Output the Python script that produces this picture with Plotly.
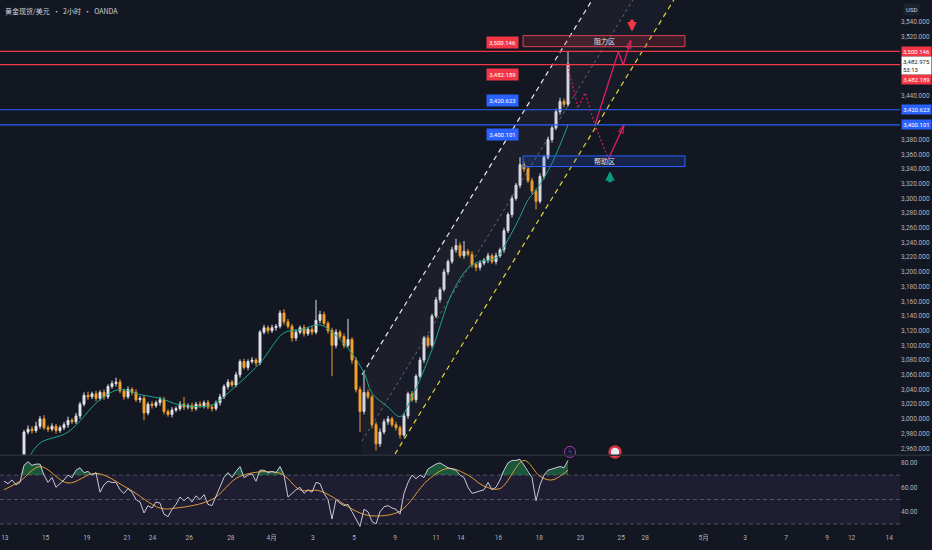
import plotly.graph_objects as go

# ---- data (one candle = ~2 original 2h bars) ----
first_open = 2936
closes = [
    2934, 2930, 2936, 2933, 2938, 2982, 2986, 2984, 2990, 3000,
    2988, 2986, 2990, 2984, 2988, 2992, 2998, 2996, 3004, 3020,
    3032, 3030, 3034, 3028, 3036, 3030, 3044, 3048, 3050, 3038,
    3030, 3040, 3036, 3026, 3028, 3008, 3020, 3018, 3022, 3026,
    3010, 3006, 3012, 3014, 3020, 3016, 3018, 3014, 3020, 3018,
    3022, 3016, 3014, 3022, 3030, 3044, 3050, 3046, 3060, 3078,
    3070, 3078, 3080, 3076, 3118, 3124, 3120, 3124, 3126, 3144,
    3132, 3126, 3110, 3118, 3124, 3116, 3122, 3118, 3134, 3142,
    3130, 3120, 3100, 3118, 3112, 3100, 3108, 3080, 3040, 3010,
    3036, 3030, 2992, 2966, 2982, 2996, 3000, 2992, 2988, 2978,
    3004, 3034, 3026, 3058, 3080, 3110, 3100, 3140, 3162, 3176,
    3200, 3214, 3230, 3236, 3222, 3228, 3224, 3210, 3206, 3212,
    3216, 3222, 3214, 3222, 3230, 3256, 3278, 3300, 3318, 3346,
    3340, 3324, 3310, 3296, 3330, 3356, 3380, 3396, 3418, 3432,
    3428, 3482.975,
]
up_wicks = [
    4, 3, 5, 3, 4, 3, 5, 4, 6, 4,
    5, 3, 4, 3, 3, 4, 5, 3, 4, 3,
    4, 5, 3, 4, 3, 4, 3, 4, 6, 4,
    3, 4, 3, 4, 3, 4, 3, 4, 3, 4,
    4, 3, 4, 3, 4, 10, 3, 4, 3, 4,
    3, 4, 3, 3, 4, 3, 4, 3, 4, 3,
    4, 3, 4, 3, 3, 4, 3, 4, 3, 4,
    5, 4, 3, 4, 3, 4, 3, 4, 28, 5,
    4, 3, 4, 4, 3, 4, 28, 3, 4, 4,
    26, 4, 3, 4, 5, 4, 4, 3, 4, 3,
    4, 3, 4, 3, 4, 3, 4, 3, 4, 3,
    4, 3, 4, 9, 4, 14, 3, 4, 3, 4,
    3, 4, 3, 4, 3, 4, 3, 4, 3, 10,
    4, 3, 4, 3, 4, 3, 4, 3, 4, 5,
    4, 17,
]
down_wicks = [
    4, 3, 4, 3, 4, 3, 3, 4, 3, 4,
    3, 4, 3, 4, 3, 3, 4, 3, 3, 4,
    3, 4, 3, 4, 3, 4, 3, 3, 4, 3,
    4, 3, 4, 3, 4, 10, 3, 4, 3, 4,
    4, 3, 4, 3, 3, 4, 3, 4, 3, 3,
    4, 3, 4, 3, 4, 3, 4, 3, 3, 4,
    3, 4, 3, 4, 3, 3, 4, 3, 4, 3,
    4, 3, 5, 4, 3, 4, 3, 4, 3, 4,
    3, 4, 42, 4, 3, 4, 3, 5, 4, 28,
    4, 3, 5, 9, 4, 3, 4, 3, 4, 5,
    3, 4, 3, 4, 3, 4, 3, 4, 3, 4,
    3, 4, 3, 4, 3, 4, 3, 4, 5, 4,
    3, 4, 3, 4, 3, 4, 3, 4, 3, 4,
    4, 3, 4, 11, 3, 4, 3, 4, 3, 4,
    4, 3,
]

# teal moving average on price (read at selected bars)
ma_bars = [6, 9, 16, 24, 29, 34, 39, 44, 52, 57, 64, 70, 74, 79, 82, 86,
           90, 92, 96, 99, 102, 107, 112, 116, 119, 123, 126, 129, 131, 133, 137, 141]
ma_vals = [2945, 2967, 2982, 3026, 3040, 3033, 3028, 3019, 3019, 3040, 3076, 3117,
           3121, 3128, 3118, 3096, 3063, 3035, 3016, 3003, 3030, 3094, 3171, 3205,
           3214, 3219, 3244, 3275, 3298, 3311, 3348, 3400]

# RSI pane
rsi = [
    65, 63, 66, 62, 64, 78, 81, 78, 79, 79,
    70, 64, 68, 60, 63, 66, 70, 68, 74, 76,
    72, 73, 70, 72, 56, 62, 65, 64, 64, 58,
    55, 59, 56, 50, 48, 39, 45, 43, 48, 47,
    38, 36, 42, 46, 52, 49, 52, 48, 53, 50,
    54, 46, 45, 53, 60, 68, 72, 68, 73, 77,
    68, 70, 71, 65, 74, 74, 72, 73, 72, 77,
    70, 52, 55, 58, 60, 55, 58, 56, 64, 63,
    55, 50, 34, 50, 47, 45, 46, 40, 33, 28,
    42, 40, 32, 30, 40, 44, 45, 43, 42, 38,
    55, 64, 70, 67, 70, 68, 75, 77, 79, 80,
    78, 76, 75, 74, 70, 68, 60, 55, 56, 57,
    58, 64, 58, 60, 66, 74, 80, 82, 82, 83,
    78, 72, 68, 49, 62, 70, 74, 75, 76, 77,
    76, 82,
]
rsi_ma_bars = [0, 4, 9, 16, 23, 31, 39, 43, 52, 59, 69, 74, 79, 89, 93, 99,
               106, 111, 116, 120, 124, 130, 134, 137, 141]
rsi_ma = [58, 65, 77, 63.5, 71.5, 59, 43, 43, 50, 69, 71.5, 58, 57, 39, 36.5, 40.5,
          66, 75.5, 70, 61, 59, 82, 69, 66, 74]

# drawings
level_prices = [3500.146, 3482.189, 3420.623, 3400.101]
level_colors = ["#f23645", "#f23645", "#2962ff", "#2962ff"]
level_label_shift = [9, -10, 9.5, -10]
level_axis_shift = [0, -14.5, 0, 0]

channel_x = [89.5, 175]
channel_upper = [3060, 3818]
channel_lower = [2879, 3637]
channel_mid = [(u + l) / 2 for u, l in zip(channel_upper, channel_lower)]

zone_x = [129.75, 170.25]
resist_zone = [3506.5, 3521.5]
support_zone = [3343.3, 3357.8]

path_a_x = [147.75, 153.6, 154.8, 156.7]
path_a_y = [3400.1, 3499.7, 3481.6, 3514.7]
path_b_x = [151.1, 155.0]
path_b_y = [3353.7, 3399.6]
dotted_x = [141, 143.5, 145.25, 147.75, 151.1]
dotted_y = [3479, 3423, 3443.5, 3400.1, 3353.7]

tick_pos = [0.2, 10.4, 20.7, 30.8, 37.1, 46.3, 56.7, 66.9, 77.2, 87.5, 97.75, 108,
            114.2, 123.6, 133.8, 144.1, 154.3, 160.3, 174.9, 185.25, 195.5, 205.75,
            211.9, 221.3]
tick_text = ["13", "15", "19", "21", "24", "26", "28", "4月", "3", "5", "9", "11",
             "14", "16", "18", "23", "25", "28", "5月", "3", "7", "9", "12", "14"]

hidden_ticks = [3400, 3420, 3460, 3480, 3500]
price_ticks = [p for p in range(2960, 3560, 20) if p not in hidden_ticks]

BG = "#131722"
TXT = "#b2b5be"
PINK = "#e91e63"

opens = [first_open] + closes[:-1]
highs = [max(o, c) + w for o, c, w in zip(opens, closes, up_wicks)]
lows = [min(o, c) - w for o, c, w in zip(opens, closes, down_wicks)]
bars = list(range(len(closes)))

fig = go.Figure()

# channel fill + lines
fig.add_trace(go.Scatter(x=channel_x, y=channel_upper, mode="lines",
                         line=dict(color="rgba(255,255,255,0.9)", width=1.2, dash="5px,4px")))
fig.add_trace(go.Scatter(x=channel_x, y=channel_mid, mode="lines", fill="tonexty",
                         fillcolor="rgba(120,123,134,0.09)",
                         line=dict(color="rgba(200,200,200,0.55)", width=0.8, dash="3px,3px")))
fig.add_trace(go.Scatter(x=channel_x, y=channel_lower, mode="lines", fill="tonexty",
                         fillcolor="rgba(120,123,134,0.06)",
                         line=dict(color="#e6d23a", width=1.2, dash="5px,4px")))

fig.add_trace(go.Candlestick(
    x=bars, open=opens, high=highs, low=lows, close=closes,
    increasing=dict(line=dict(color="#dfe1e8", width=1), fillcolor="#dfe1e8"),
    decreasing=dict(line=dict(color="#f5a02a", width=1), fillcolor="#f5a02a"),
    whiskerwidth=0, hoverinfo="skip",
))

fig.add_trace(go.Scatter(x=ma_bars, y=ma_vals, mode="lines", line_shape="spline",
                         line=dict(color="#1fa38e", width=1)))

# projected paths
fig.add_trace(go.Scatter(x=dotted_x, y=dotted_y, mode="lines",
                         line=dict(color=PINK, width=1.1, dash="2px,2px")))
for px_, py_ in [(path_a_x, path_a_y), (path_b_x, path_b_y)]:
    sizes = [0] * (len(px_) - 1) + [8]
    fig.add_trace(go.Scatter(x=px_, y=py_, mode="lines+markers",
                             line=dict(color=PINK, width=1.3),
                             marker=dict(symbol="arrow-open", size=sizes, angleref="previous",
                                         line=dict(color=PINK, width=1.3), color=PINK)))

# event icons at bottom of price pane
fig.add_trace(go.Scatter(x=[141.5], y=[2955], mode="markers+text", text=["ϟ"],
                         textfont=dict(color="#b04fc8", size=8),
                         marker=dict(size=11, color=BG, line=dict(color="#9c3fb8", width=1)),
                         cliponaxis=False))
fig.add_trace(go.Scatter(x=[152.75], y=[2955], mode="markers",
                         marker=dict(size=11, color="#e8eaf2", line=dict(color="#d8323e", width=2.5)),
                         cliponaxis=False))

# RSI
fig.add_trace(go.Scatter(x=bars, y=[70] * len(bars), mode="lines", yaxis="y2",
                         line=dict(width=0, color="rgba(0,0,0,0)")))
fig.add_trace(go.Scatter(x=bars, y=[max(v, 70) for v in rsi], mode="lines", yaxis="y2",
                         fill="tonexty", fillcolor="rgba(38,166,91,0.45)",
                         line=dict(width=0, color="rgba(0,0,0,0)")))
fig.add_trace(go.Scatter(x=rsi_ma_bars, y=rsi_ma, mode="lines", yaxis="y2", line_shape="spline",
                         line=dict(color="#e39b35", width=1)))
fig.add_trace(go.Scatter(x=bars, y=rsi, mode="lines", yaxis="y2",
                         line=dict(color="#c9cbd6", width=1)))

shapes = []
for p, c in zip(level_prices, level_colors):
    shapes.append(dict(type="line", xref="paper", x0=0, x1=1, yref="y", y0=p, y1=p,
                       line=dict(color=c, width=1.2)))
shapes.append(dict(type="rect", xref="x", yref="y", x0=zone_x[0], x1=zone_x[1],
                   y0=resist_zone[0], y1=resist_zone[1],
                   fillcolor="rgba(242,54,69,0.18)", line=dict(color="#d8404f", width=1)))
shapes.append(dict(type="rect", xref="x", yref="y", x0=zone_x[0], x1=zone_x[1],
                   y0=support_zone[0], y1=support_zone[1],
                   fillcolor="rgba(41,98,255,0.18)", line=dict(color="#2962ff", width=1)))
# RSI band and guides
shapes.append(dict(type="rect", xref="paper", x0=0, x1=1, yref="y2", y0=30, y1=70,
                   fillcolor="rgba(126,87,194,0.10)", line=dict(width=0), layer="below"))
for lv in [70, 50, 30]:
    shapes.append(dict(type="line", xref="paper", x0=0, x1=1, yref="y2", y0=lv, y1=lv,
                       line=dict(color="rgba(120,123,134,0.55)", width=1, dash="4px,3px")))
shapes.append(dict(type="line", xref="paper", x0=0, x1=1.036, yref="paper", y0=0.1445, y1=0.1445,
                   line=dict(color="#2a2e39", width=1.5)))

ann = []
lab_font = dict(family="Roboto", size=6, color="white")
for p, c, s, a in zip(level_prices, level_colors, level_label_shift, level_axis_shift):
    ann.append(dict(x=124.5, y=p, xref="x", yref="y", yshift=s, text=f"{p:,.3f}",
                    showarrow=False, bgcolor=c, font=lab_font, borderpad=2, width=27))
    ann.append(dict(x=1, y=p, xref="paper", yref="y", xanchor="left", xshift=1, yshift=a,
                    text=f"{p:,.3f}", showarrow=False, bgcolor=c, font=lab_font,
                    borderpad=1, width=27))
ann.append(dict(x=1, y=closes[-1], xref="paper", yref="y", xanchor="left", xshift=1, yshift=-2,
                text=f"{closes[-1]:,.3f}<br>53:13", showarrow=False, bgcolor="#ffffff",
                font=dict(family="Roboto", size=6, color="#131722"), borderpad=1, width=27,
                align="left"))
ann.append(dict(x=1, y=1, xref="paper", yref="paper", xanchor="left", yanchor="top", xshift=3,
                yshift=-3, text="USD", showarrow=False, bgcolor="#1e222d",
                font=dict(family="Roboto", size=6, color="#d1d4dc"), borderpad=2))
ann.append(dict(x=0.003, y=1, xref="paper", yref="paper", xanchor="left", yanchor="top",
                yshift=-4, text="黄金现货/美元  •  2小时  •  OANDA", showarrow=False,
                font=dict(family="Noto Sans CJK SC", size=7, color="#d1d4dc")))
ann.append(dict(x=sum(zone_x) / 2, y=sum(resist_zone) / 2, xref="x", yref="y", text="阻力区",
                showarrow=False, font=dict(family="Noto Sans CJK SC", size=7, color="#e0e3eb")))
ann.append(dict(x=sum(zone_x) / 2, y=sum(support_zone) / 2, xref="x", yref="y", text="帮助区",
                showarrow=False, font=dict(family="Noto Sans CJK SC", size=7, color="#e0e3eb")))
# block arrows near zones
ann.append(dict(x=157, y=3527, ax=157, ay=3545, xref="x", yref="y", axref="x", ayref="y",
                showarrow=True, arrowhead=2, arrowsize=0.55, arrowwidth=3.5, arrowcolor="#f23645",
                text=""))
ann.append(dict(x=151.5, y=3337, ax=151.5, ay=3320, xref="x", yref="y", axref="x", ayref="y",
                showarrow=True, arrowhead=2, arrowsize=0.55, arrowwidth=3.5, arrowcolor="#089981",
                text=""))

fig.update_layout(
    width=932, height=550,
    margin=dict(l=0, r=32, t=0, b=18, autoexpand=False),
    paper_bgcolor=BG, plot_bgcolor=BG,
    showlegend=False,
    font=dict(family="Roboto, Noto Sans CJK SC", size=6.5, color=TXT),
    xaxis=dict(range=[-1, 224], anchor="y2", showgrid=False, zeroline=False,
               rangeslider=dict(visible=False), tickvals=tick_pos, ticktext=tick_text,
               tickfont=dict(size=6.5, color=TXT), ticks="", automargin=False),
    yaxis=dict(domain=[0.145, 1], range=[2951, 3570], side="right", showgrid=False,
               zeroline=False, tickvals=price_ticks, tickformat=",.3f", automargin=False,
               tickfont=dict(size=6.5, color=TXT), ticks=""),
    yaxis2=dict(domain=[0, 0.143], range=[23.4, 85.7], side="right", showgrid=False,
                zeroline=False, tickvals=[40, 60, 80], tickformat=".2f", automargin=False,
                tickfont=dict(size=6.5, color=TXT), ticks=""),
    shapes=shapes,
    annotations=ann,
)

# the page body has a default 8px margin; drop it so the 932x550 figure fills the window
fig.write_html("out.html",
               config={"displayModeBar": False},
               post_script="document.body.style.margin='0';"
                           "document.body.style.background='#131722';"
                           "document.body.style.overflow='hidden';")
